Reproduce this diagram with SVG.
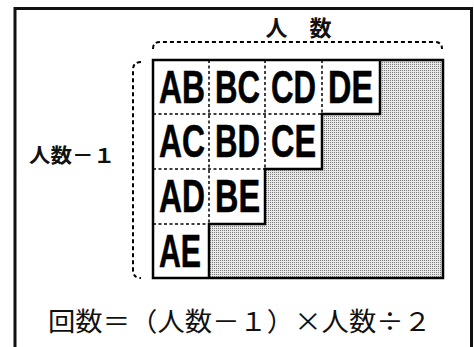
<svg xmlns="http://www.w3.org/2000/svg" width="474" height="347" viewBox="0 0 474 347">
<style>
.frame{fill:none;stroke:#111;stroke-width:3}
.solid{fill:none;stroke:#000;stroke-width:2.5;stroke-linejoin:miter}
.dash{fill:none;stroke:#000;stroke-width:1.5;stroke-dasharray:3 2.5}
.brace{fill:none;stroke:#000;stroke-width:2;stroke-dasharray:4 3}
.cell{font-family:"Liberation Sans",Arial,sans-serif;font-weight:bold;font-size:42px;fill:#000;stroke:#000;stroke-width:0.5}
.jp{font-family:"Noto Sans CJK JP","Liberation Sans",sans-serif;font-weight:bold;fill:#111}
.formula{font-family:"Noto Sans CJK JP","Liberation Serif",serif;font-size:26px;fill:#111}
</style>
<defs>
<pattern id="dots" width="2" height="2" patternUnits="userSpaceOnUse">
<rect width="2" height="2" fill="#e8e8e8"/>
<rect width="1" height="1" fill="#7a7a7a"/>
</pattern>
</defs>
<rect class="frame" x="15" y="8.5" width="456.5" height="400"/>
<g id="header">
<text class="jp" x="298.5" y="36" font-size="22" text-anchor="middle">人　数</text>
</g>
<g id="side-label">
<text class="jp" x="29" y="163" font-size="20" textLength="86" lengthAdjust="spacingAndGlyphs">人数－１</text>
</g>
<g id="connectors">
<path class="brace" d="M153,49 Q153,42 160,42 L435,42 Q442,42 442,49"/>
<path class="brace" d="M141,62 Q133,62 133,70 L133,270 Q133,278 141,278"/>
</g>
<g id="grid">
<path d="M380,60 L443,60 L443,278 L209,278 L209,224 L265,224 L265,169 L322,169 L322,114 L380,114 Z" fill="url(#dots)"/>
<path class="solid" d="M380,60 L380,114 L322,114 L322,169 L265,169 L265,224 L209,224 L209,278"/>
<rect class="solid" x="153" y="60" width="290" height="218"/>
<path class="dash" d="M209,60 V224 M265,60 V169 M322,60 V114 M153,114 H322 M153,169 H265 M153,224 H209"/>
</g>
<g id="cells">
<g transform="translate(0,103) scale(1,1.1)"><text class="cell" x="159" y="0" textLength="46" lengthAdjust="spacingAndGlyphs">AB</text>
<text class="cell" x="215" y="0" textLength="45" lengthAdjust="spacingAndGlyphs">BC</text>
<text class="cell" x="271" y="0" textLength="45" lengthAdjust="spacingAndGlyphs">CD</text>
<text class="cell" x="328" y="0" textLength="45" lengthAdjust="spacingAndGlyphs">DE</text></g>
<g transform="translate(0,157) scale(1,1.1)"><text class="cell" x="159" y="0" textLength="46" lengthAdjust="spacingAndGlyphs">AC</text>
<text class="cell" x="215" y="0" textLength="45" lengthAdjust="spacingAndGlyphs">BD</text>
<text class="cell" x="271" y="0" textLength="45" lengthAdjust="spacingAndGlyphs">CE</text></g>
<g transform="translate(0,212) scale(1,1.1)"><text class="cell" x="159" y="0" textLength="46" lengthAdjust="spacingAndGlyphs">AD</text>
<text class="cell" x="215" y="0" textLength="45" lengthAdjust="spacingAndGlyphs">BE</text></g>
<g transform="translate(0,267) scale(1,1.1)"><text class="cell" x="159" y="0" textLength="42" lengthAdjust="spacingAndGlyphs">AE</text></g>
</g>
<g id="formula">
<text class="formula" x="48" y="331" textLength="383" lengthAdjust="spacingAndGlyphs">回数＝（人数－１）×人数÷２</text>
</g>
</svg>
